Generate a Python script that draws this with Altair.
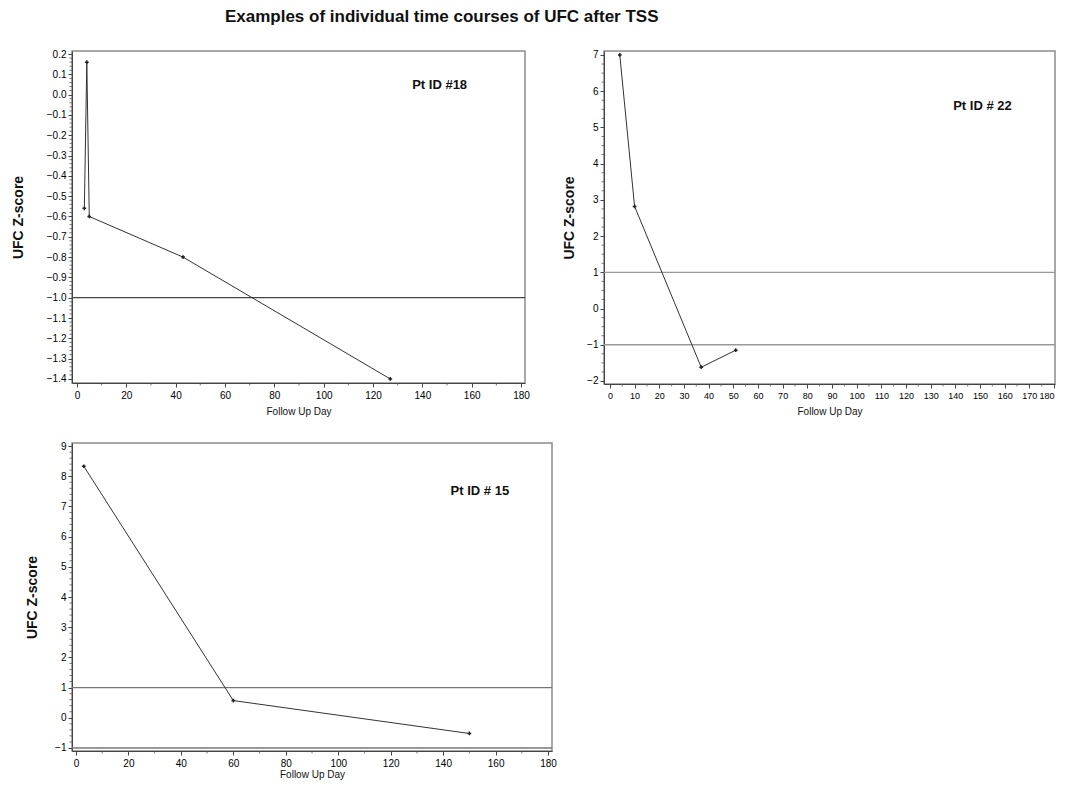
import altair as alt
import pandas as pd

title_text = "Examples of individual time courses of UFC after TSS"

# Patient 18
p18_day = [3, 4, 5, 43, 127]
p18_z = [-0.56, 0.16, -0.60, -0.80, -1.40]
p18_ref = [-1.0]
p18_label = "Pt ID #18"
p18_label_day = [147]
p18_label_z = [0.05]

# Patient 22
p22_day = [4, 10, 37, 51]
p22_z = [7.0, 2.82, -1.62, -1.15]
p22_ref = [1.0, -1.0]
p22_label = "Pt ID # 22"
p22_label_day = [151]
p22_label_z = [5.6]

# Patient 15
p15_day = [3, 60, 150]
p15_z = [8.33, 0.57, -0.52]
p15_ref = [1.0, -1.0]
p15_label = "Pt ID # 15"
p15_label_day = [154]
p15_label_z = [7.5]

# tick values
p18_xticks = list(range(0, 181, 20))
p18_xminor = list(range(10, 180, 20))
p18_yticks = [round(0.2 - 0.1 * i, 1) for i in range(17)]
p18_yminor = [round(0.2 - 0.02 * i, 2) for i in range(81) if i % 5 != 0]

p22_xticks = list(range(0, 181, 10))
p22_xminor = list(range(5, 180, 10))
p22_yticks = list(range(-2, 8))
p22_yminor = [v / 4 for v in range(-8, 29) if v % 4 != 0]

p15_xticks = list(range(0, 181, 20))
p15_xminor = list(range(10, 180, 20))
p15_yticks = list(range(-1, 10))
p15_yminor = [v / 5 for v in range(-5, 46) if v % 5 != 0]

FONT = "Liberation Sans"


def panel(days, z, refs, label, lday, lz, xdom, ydom, xticks, xminor,
          yticks, yminor, yfmt, w, h, ref_color, title_pad, xtitle_pad,
          xlabel_size=10, xflush=False):
    xs = alt.Scale(domain=xdom, nice=False, zero=False)
    ys = alt.Scale(domain=ydom, nice=False, zero=False)
    xax = alt.Axis(values=xticks, title="Follow Up Day", format="d",
                   titleFontSize=10, titleFontWeight="normal",
                   titlePadding=xtitle_pad, labelFontSize=xlabel_size,
                   labelPadding=3, tickSize=4, labelOverlap=False,
                   labelFlush=xflush)
    yax = alt.Axis(values=yticks, title="UFC Z-score", format=yfmt,
                   titleFontSize=14, titleFontWeight="bold",
                   titlePadding=title_pad, labelFontSize=10, labelPadding=2,
                   tickSize=4, labelOverlap=False, labelFlush=False)
    X = lambda: alt.X("day:Q", scale=xs, axis=xax)
    Y = lambda: alt.Y("z:Q", scale=ys, axis=yax)

    df = pd.DataFrame({"day": days, "z": z})
    line = alt.Chart(df).mark_line(color="#333", strokeWidth=1).encode(x=X(), y=Y())
    pts = alt.Chart(df).mark_point(shape="cross", size=14, filled=True,
                                   color="#222", opacity=1).encode(x=X(), y=Y())
    rdf = pd.DataFrame({"z": refs})
    ref = alt.Chart(rdf).mark_rule(color=ref_color, strokeWidth=1.3).encode(y=Y())
    ymdf = pd.DataFrame({"z": yminor})
    ymin = alt.Chart(ymdf).mark_rule(color="#555", strokeWidth=0.8, clip=False).encode(
        y=Y(), x=alt.value(-2.5), x2=alt.value(0))
    xmdf = pd.DataFrame({"day": xminor})
    xmin = alt.Chart(xmdf).mark_rule(color="#555", strokeWidth=0.8, clip=False).encode(
        x=X(), y=alt.value(h), y2=alt.value(h + 2.5))
    ldf = pd.DataFrame({"day": lday, "z": lz, "t": [label]})
    txt = alt.Chart(ldf).mark_text(font=FONT, fontSize=13, fontWeight="bold",
                                   color="#111").encode(x=X(), y=Y(), text="t:N")
    return alt.layer(ref, line, pts, ymin, xmin, txt).properties(width=w, height=h)


p1 = panel(p18_day, p18_z, p18_ref, p18_label, p18_label_day, p18_label_z,
           [-2.0, 181.6], [-1.42, 0.215], p18_xticks, p18_xminor,
           p18_yticks, p18_yminor, ".1f", 453, 332, "#444", 20.5, 6)
p2 = panel(p22_day, p22_z, p22_ref, p22_label, p22_label_day, p22_label_z,
           [-2.4, 180.4], [-2.083, 7.11], p22_xticks, p22_xminor,
           p22_yticks, p22_yminor, "d", 451, 333, "#999", 10.5, 6,
           xlabel_size=9, xflush=True)
p3 = panel(p15_day, p15_z, p15_ref, p15_label, p15_label_day, p15_label_z,
           [-1.5, 181.5], [-1.1, 9.1], p15_xticks, p15_xminor,
           p15_yticks, p15_yminor, "d", 480, 308, "#777", 15, 1)

row1 = alt.hconcat(p1, p2, spacing=30)
chart = alt.vconcat(row1, p3, spacing=23).properties(
    padding={"left": 3, "top": 0, "right": 0, "bottom": 0},
    title=alt.TitleParams(title_text, font=FONT, fontSize=17, fontWeight="bold",
                          color="#111", anchor="middle", dx=-92, dy=-8, offset=14),
).configure_view(stroke="#8c8c8c", strokeWidth=1.5).configure_axis(
    labelFont=FONT, titleFont=FONT, labelColor="#000", titleColor="#111",
    domainColor="#444", tickColor="#444", grid=False, domainWidth=1, tickWidth=1,
)

chart.save("out.html", embed_options={"renderer": "svg", "actions": False})
